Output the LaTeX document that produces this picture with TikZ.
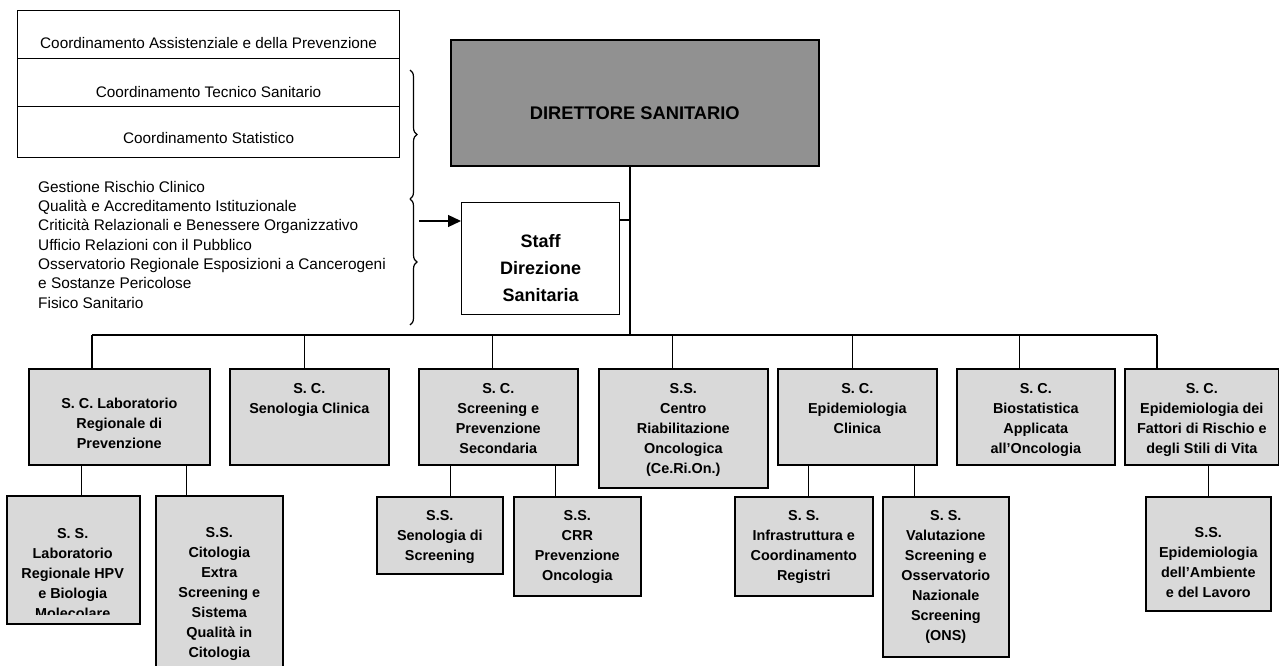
\documentclass[tikz,border=0pt]{standalone}
\usepackage{fontspec}
\setmainfont{Liberation Sans}
\usetikzlibrary{arrows.meta,decorations.pathreplacing}
\definecolor{cellgray}{gray}{0.85}
\definecolor{dirgray}{gray}{0.57}
\newcommand{\cell}[4]{\parbox[c][#2pt][t]{#1pt}{\centering\rule{0pt}{#3pt}#4\par}}

\begin{document}
\begin{tikzpicture}[x=1pt,y=-1pt,
    cellbox/.style={draw,line width=1.6pt,fill=cellgray,inner sep=0pt,anchor=north west,font=\fontsize{14.4}{20}\selectfont\bfseries},
    coordbox/.style={draw,line width=1.2pt,fill=white,inner sep=0pt,anchor=north west,font=\fontsize{15.3}{20}\selectfont},
    link/.style={line width=1.3pt}]
\useasboundingbox (0,0) rectangle (1279,666);

\node[coordbox] (coordA) at (17,10) {\cell{382}{48}{38}{Coordinamento Assistenziale e della Prevenzione}}; % coordA
\node[coordbox] (coordB) at (17,58) {\cell{382}{48}{39}{Coordinamento Tecnico Sanitario}}; % coordB
\node[coordbox] (coordC) at (17,106) {\cell{382}{51}{37}{Coordinamento Statistico}}; % coordC
\node[anchor=north west,inner sep=0pt,font=\fontsize{15.4}{19.3}\selectfont] (staffList) at (38,175) {\parbox[t]{370pt}{\raggedright\rule{0pt}{17pt}Gestione Rischio Clinico\\
Qualità e Accreditamento Istituzionale\\
Criticità Relazionali e Benessere Organizzativo\\
Ufficio Relazioni con il Pubblico\\
Osservatorio Regionale Esposizioni a Cancerogeni\\
e Sostanze Pericolose\\
Fisico Sanitario}}; % staffList
\draw[line width=1.2pt,decorate,decoration={brace,amplitude=7pt}] (410,70) -- (410,199) ;
\draw[line width=1.2pt,decorate,decoration={brace,amplitude=7pt}] (410,199) -- (410,325) ;

\node[draw,line width=1.6pt,fill=dirgray,inner sep=0pt,anchor=north west,font=\fontsize{18.3}{22}\selectfont\bfseries] (dir) at (450,39) {\cell{368}{126}{80}{DIRETTORE SANITARIO}}; % dir
\node[draw,line width=1.4pt,fill=white,inner sep=0pt,anchor=north west,font=\fontsize{18}{27}\selectfont\bfseries] (staff) at (461,202) {\cell{158}{112}{45}{Staff\\Direzione\\Sanitaria}}; % staff
\coordinate (braceTip) at (419,221);
\draw[link,-{Triangle[length=13pt,width=12pt]}] (braceTip) -- (braceTip -| staff.west) ;

% first level
\node[cellbox] (lab) at (28,368) {\cell{181}{96}{40}{S. C. Laboratorio\\Regionale di\\Prevenzione}};
\node[cellbox] (seno) at (229,368) {\cell{159}{96}{25}{S. C.\\Senologia Clinica}};
\node[cellbox] (scr) at (418,368) {\cell{159}{96}{25}{S. C.\\Screening e\\Prevenzione\\Secondaria}};
\node[cellbox] (ceri) at (598,368) {\cell{169}{119}{25}{S.S.\\Centro\\Riabilitazione\\Oncologica\\(Ce.Ri.On.)}};
\node[cellbox] (epic) at (777,368) {\cell{159}{96}{25}{S. C.\\Epidemiologia\\Clinica}};
\node[cellbox] (bio) at (956,368) {\cell{158}{96}{25}{S. C.\\Biostatistica\\Applicata\\all’Oncologia}};
\node[cellbox] (epf) at (1124,368) {\cell{154}{96}{25}{S. C.\\Epidemiologia dei\\Fattori di Rischio e\\degli Stili di Vita}};

% second level
\node[cellbox] (hpv) at (6,495) {\cell{133}{128}{0}{}};
\begin{scope}
\clip (hpv.north west) rectangle ([yshift=10pt]hpv.south east);
\node[anchor=north west,inner sep=0pt,font=\fontsize{14.4}{20}\selectfont\bfseries] (hpvText) at (hpv.north west) {\cell{133}{128}{43}{S. S.\\Laboratorio\\Regionale HPV\\e Biologia\\Molecolare}};
\end{scope}
\node[cellbox] (cito) at (155,495) {\cell{127}{210}{42}{S.S.\\Citologia\\Extra\\Screening e\\Sistema\\Qualità in\\Citologia}};
\node[cellbox] (sscr) at (376,496) {\cell{126}{77}{24}{S.S.\\Senologia di\\Screening}};
\node[cellbox] (crr) at (513,496) {\cell{127}{99}{24}{S.S.\\CRR\\Prevenzione\\Oncologia}};
\node[cellbox] (infra) at (734,496) {\cell{138}{99}{24}{S. S.\\Infrastruttura e\\Coordinamento\\Registri}};
\node[cellbox] (valu) at (882,496) {\cell{126}{160}{24}{S. S.\\Valutazione\\Screening e\\Osservatorio\\Nazionale\\Screening\\(ONS)}};
\node[cellbox] (amb) at (1145,496) {\cell{125}{114}{41}{S.S.\\Epidemiologia\\dell’Ambiente\\e del Lavoro}};

% connectors
\coordinate (trunk) at (630,335);
\coordinate (busL) at (92,335);
\coordinate (busR) at (1157,335);
\draw[link] (dir.south -| trunk) -- (trunk) ;
\draw[link] ([yshift=-18pt]staff.north east) -- ([yshift=-18pt]staff.north east -| trunk) ;
\draw[link] (busL) -- (busR) ;
\draw[link] (busL) -- (busL |- lab.north) ;
\draw[link] ([xshift=-5pt]seno.north) -- ([xshift=-5pt]seno.north |- busL) ;
\draw[link] ([xshift=-5.5pt]scr.north) -- ([xshift=-5.5pt]scr.north |- busL) ;
\draw[link] ([xshift=-10.5pt]ceri.north) -- ([xshift=-10.5pt]ceri.north |- busL) ;
\draw[link] ([xshift=-4.5pt]epic.north) -- ([xshift=-4.5pt]epic.north |- busL) ;
\draw[link] ([xshift=-16pt]bio.north) -- ([xshift=-16pt]bio.north |- busL) ;
\draw[link] (busR) -- (busR |- epf.north) ;
\draw[link] ([xshift=8.5pt]hpv.north) -- ([xshift=8.5pt]hpv.north |- lab.south) ;
\draw[link] ([xshift=-32.5pt]cito.north) -- ([xshift=-32.5pt]cito.north |- lab.south) ;
\draw[link] ([xshift=11pt]sscr.north) -- ([xshift=11pt]sscr.north |- scr.south) ;
\draw[link] ([xshift=-21.5pt]crr.north) -- ([xshift=-21.5pt]crr.north |- scr.south) ;
\draw[link] ([xshift=5pt]infra.north) -- ([xshift=5pt]infra.north |- epic.south) ;
\draw[link] ([xshift=-31pt]valu.north) -- ([xshift=-31pt]valu.north |- epic.south) ;
\draw[link] (amb.north) -- (amb.north |- epf.south) ;
\end{tikzpicture}
\end{document}
